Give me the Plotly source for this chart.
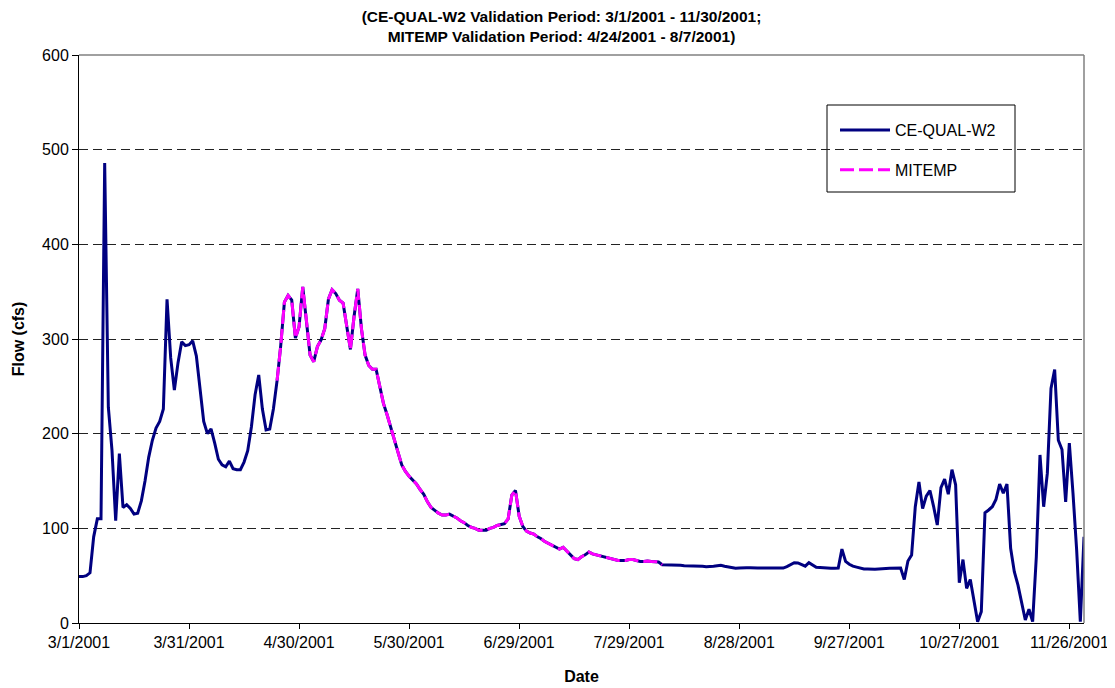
import plotly.graph_objects as go
import pandas as pd

# ---- data (daily flow, cfs) ----
ce_start = "2001-03-01"
ce_qual_w2_flow = [
    49, 49, 50, 53, 91, 110, 110, 486, 228, 182,
    108, 179, 122, 125, 121, 115, 116, 129, 150, 175,
    193, 206, 213, 226, 342, 280, 246, 275, 297, 293,
    294, 298, 282, 245, 213, 200, 205, 190, 173, 167,
    165, 171, 163, 162, 162, 170, 182, 207, 241, 262,
    226, 204, 205, 226, 256, 293, 339, 346, 341, 301,
    313, 355, 320, 283, 276, 292, 299, 311, 342, 352,
    348, 341, 338, 315, 289, 324, 353, 311, 283, 272,
    268, 268, 248, 232, 220, 206, 193, 180, 167, 160,
    155, 151, 147, 141, 136, 128, 122, 119, 116, 114,
    114, 115, 113, 111, 108, 106, 103, 101, 100, 98,
    98, 98, 100, 101, 103, 104, 105, 110, 135, 140,
    113, 102, 97, 95, 94, 91, 89, 86, 84, 82,
    80, 78, 80, 76, 71, 68, 67, 70, 72, 75,
    73, 72, 71, 70, 69, 68, 67, 66, 66, 66,
    67, 67, 66, 65, 65, 65.5, 65, 65, 64.5, 61.5,
    61.5, 61, 61, 61, 61, 60.5, 60.5, 60, 60, 60,
    60, 59.5, 59.5, 60, 60.5, 61, 60, 59, 58, 57.8,
    58, 58.4, 58.4, 58.4, 58, 58, 58, 58, 58, 57.8,
    57.8, 57.8, 58, 59.5, 62, 63.7, 63.5, 62, 60, 63.7,
    61, 58.8, 58.5, 58, 57.8, 57.8, 57.8, 58, 78, 65,
    62, 60, 59, 58, 57, 57, 56.7, 56.7, 57, 57,
    57.5, 57.8, 58, 58, 58, 46, 65.5, 71.8, 122.8, 149,
    121, 134, 140, 123, 103.5, 143, 152, 136, 162, 146,
    42.6, 67, 36.6, 46, 23.6, 1.4, 12, 116.5, 119.4, 122.8,
    130.6, 146.8, 137, 146.8, 78.9, 54.2, 40, 20.8, 3.2, 14.5,
    1.4, 70, 177.5, 122.8, 158, 247.8, 267.8, 193, 183.3, 128,
    190, 137, 77, 1.4, 91,
]

mitemp_start = "2001-04-24"
mitemp_flow = [
    256, 293, 339, 346, 341, 301,
    313, 355, 320, 283, 276, 292, 299, 311, 342, 352,
    348, 341, 338, 315, 289, 324, 353, 311, 283, 272,
    268, 268, 248, 232, 220, 206, 193, 180, 167, 160,
    155, 151, 147, 141, 136, 128, 122, 119, 116, 114,
    114, 115, 113, 111, 108, 106, 103, 101, 100, 98,
    98, 98, 100, 101, 103, 104, 105, 110, 135, 140,
    113, 102, 97, 95, 94, 91, 89, 86, 84, 82,
    80, 78, 80, 76, 71, 68, 67, 70, 72, 75,
    73, 72, 71, 70, 69, 68, 67, 66, 66, 66,
    67, 67, 66, 65, 65, 65.5, 65, 65, 64.5, 61.5,
]

tick_dates = ["2001-03-01", "2001-03-31", "2001-04-30", "2001-05-30", "2001-06-29",
              "2001-07-29", "2001-08-28", "2001-09-27", "2001-10-27", "2001-11-26"]
tick_labels = ["3/1/2001", "3/31/2001", "4/30/2001", "5/30/2001", "6/29/2001",
               "7/29/2001", "8/28/2001", "9/27/2001", "10/27/2001", "11/26/2001"]

ce_dates = pd.date_range(ce_start, periods=len(ce_qual_w2_flow), freq="D")
mitemp_dates = pd.date_range(mitemp_start, periods=len(mitemp_flow), freq="D")

FONT = "Liberation Sans, Arial, sans-serif"

# figure geometry (page has an 8px body margin, so the figure is 8px smaller)
W, H = 1107, 680
ML, MR, MT, MB = 71, 31, 47, 65
PW, PH = W - ML - MR, H - MT - MB


def px_x(x):  # figure-pixel x -> paper fraction
    return (x - ML) / PW


def px_y(y):  # figure-pixel y -> paper fraction
    return (H - MB - y) / PH


fig = go.Figure()
fig.add_trace(go.Scatter(
    x=ce_dates, y=ce_qual_w2_flow, mode="lines", name="CE-QUAL-W2",
    line=dict(color="#000080", width=3), legendgroup="a",
))
fig.add_trace(go.Scatter(
    x=mitemp_dates, y=mitemp_flow, mode="lines", name="MITEMP",
    line=dict(color="#FF00FF", width=3, dash="14px,5px"), legendgroup="b",
))

fig.update_layout(
    width=W, height=H,
    margin=dict(l=ML, r=MR, t=MT, b=MB, autoexpand=False),
    paper_bgcolor="white", plot_bgcolor="white",
    font=dict(family=FONT, color="black", size=16),
    title=dict(
        text="<b>(CE-QUAL-W2 Validation Period: 3/1/2001 - 11/30/2001;<br>"
             "MITEMP Validation Period: 4/24/2001 - 8/7/2001)</b>",
        x=0.5, xref="container", xanchor="center",
        y=1 - 14 / H, yref="container", yanchor="top",
        font=dict(family=FONT, size=15.5, color="black"),
    ),
    showlegend=True,
    legend=dict(
        x=px_x(827), y=px_y(105), xanchor="left", yanchor="top",
        bgcolor="rgba(0,0,0,0)", borderwidth=0,
        font=dict(family=FONT, size=16, color="black"),
        tracegroupgap=16, traceorder="grouped", itemwidth=50,
    ),
    xaxis=dict(
        type="date",
        range=["2001-03-01", "2001-11-30"],
        tickmode="array", tickvals=tick_dates, ticktext=tick_labels,
        ticks="outside", ticklen=5, tickcolor="black", tickwidth=1,
        showline=True, linecolor="black", linewidth=1,
        showgrid=False, zeroline=False,
        tickfont=dict(family=FONT, size=16, color="black"),
        title=dict(text="<b>Date</b>", font=dict(family=FONT, size=16, color="black"), standoff=20),
    ),
    yaxis=dict(
        range=[0, 600], dtick=100, tick0=0,
        ticks="outside", ticklen=6, tickcolor="black", tickwidth=1,
        showline=True, linecolor="black", linewidth=1,
        showgrid=True, gridcolor="#222222", gridwidth=1, griddash="9px,5px",
        zeroline=False,
        tickfont=dict(family=FONT, size=16, color="black"),
        title=dict(text="<b>Flow (cfs)</b>", font=dict(family=FONT, size=16, color="black"), standoff=13),
    ),
    shapes=[
        # plot-area top and right borders (grey)
        dict(type="line", xref="paper", yref="paper", x0=0, x1=1, y0=1, y1=1,
             line=dict(color="#808080", width=1.5), layer="above"),
        dict(type="line", xref="paper", yref="paper", x0=1, x1=1, y0=0, y1=1,
             line=dict(color="#808080", width=1.5), layer="above"),
        # legend frame
        dict(type="rect", xref="paper", yref="paper",
             x0=px_x(819), x1=px_x(1007), y0=px_y(184), y1=px_y(97),
             fillcolor="white", line=dict(color="#000000", width=1), layer="between"),
    ],
)

fig.write_html("out.html")
